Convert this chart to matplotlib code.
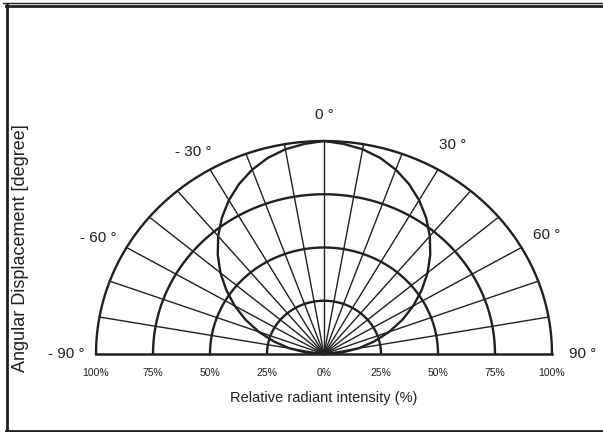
import matplotlib
matplotlib.use("Agg")
import matplotlib.pyplot as plt
import numpy as np

plt.rcParams['font.family'] = ['Liberation Sans', 'DejaVu Sans']

# radiation pattern (relative intensity vs angle)
angles = [-90, -85, -80, -75, -70, -65, -60, -55, -50, -45, -40, -35, -30, -25, -20, -15, -10, -5,
          0, 5, 10, 15, 20, 25, 30, 35, 40, 45, 50, 55, 60, 65, 70, 75, 80, 85, 90]
intensity = [0.0, 0.077, 0.153, 0.229, 0.304, 0.379, 0.452, 0.523, 0.593, 0.659, 0.722, 0.781, 0.834, 0.881, 0.921, 0.953, 0.976, 0.990,
             1.0, 0.990, 0.976, 0.953, 0.921, 0.881, 0.834, 0.781, 0.722, 0.659, 0.593, 0.523, 0.452, 0.379, 0.304, 0.229, 0.153, 0.077, 0.0]

rings = [0.25, 0.5, 0.75, 1.0]
spoke_angles = [-80, -70, -60, -50, -40, -30, -20, -10, 0, 10, 20, 30, 40, 50, 60, 70, 80]
pct_pos = [-1.0, -0.75, -0.5, -0.25, 0.0, 0.25, 0.5, 0.75, 1.0]
pct_labels = ['100%', '75%', '50%', '25%', '0%', '25%', '50%', '75%', '100%']
deg_labels = ['- 90 °', '- 60 °', '- 30 °', '0 °', '30 °', '60 °', '90 °']
deg_pos = [(-1.13, 0.0), (-0.99, 0.545), (-0.575, 0.948), (0.0, 1.122),
           (0.566, 0.981), (0.978, 0.559), (1.136, 0.0)]

ink = '#231f20'

fig = plt.figure(figsize=(6.03, 4.32), dpi=100)
ax = fig.add_axes([0, 0, 1, 1])
ax.set_xlim(-324 / 228, (603 - 324) / 228)
ax.set_ylim(-78 / 213, (432 - 78) / 213)
ax.axis('off')

# spokes
for a in spoke_angles:
    t = np.radians(a)
    ax.plot([0, np.sin(t)], [0, np.cos(t)], color=ink, lw=1.0)

# rings
th = np.radians(np.linspace(-90, 90, 361))
for r in rings:
    ax.plot(r * np.sin(th), r * np.cos(th), color=ink, lw=1.7)

# baseline
ax.plot([-1, 1], [0, 0], color=ink, lw=1.8)

# pattern
ta = np.radians(angles)
ri = np.array(intensity)
ax.plot(ri * np.sin(ta), ri * np.cos(ta), color=ink, lw=1.7)

for lab, (x, y) in zip(deg_labels, deg_pos):
    ax.text(x, y, lab, fontsize=11, color=ink, ha='center', va='center')

for x, lab in zip(pct_pos, pct_labels):
    ax.text(x, -0.089, lab, fontsize=7.5, color=ink, ha='center', va='center')

ax.text(0, -0.205, 'Relative radiant intensity (%)', fontsize=10.5, color=ink,
        ha='center', va='center')
fig.text(21 / 603, 1 - 248 / 432, 'Angular Displacement [degree]', fontsize=13,
         color=ink, rotation=90, ha='center', va='center')

# frame
fig.add_artist(plt.Line2D([3 / 603, 1], [1 - 2.5 / 432] * 2, color=ink, lw=1.0,
                          transform=fig.transFigure))
fig.add_artist(plt.Line2D([6 / 603, 1], [1 - 5.5 / 432] * 2, color=ink, lw=2.0,
                          transform=fig.transFigure))
fig.add_artist(plt.Line2D([6.5 / 603] * 2, [1 - 5 / 432, 1 - 431 / 432], color=ink, lw=2.0,
                          transform=fig.transFigure))
fig.add_artist(plt.Line2D([6 / 603, 1], [1 - 430.5 / 432] * 2, color=ink, lw=2.0,
                          transform=fig.transFigure))

fig.savefig('out.png', dpi=100)
